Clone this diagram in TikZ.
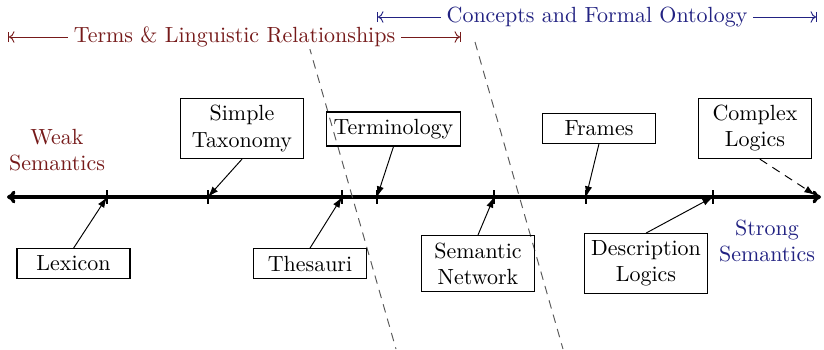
\documentclass[tikz,border=0pt]{standalone}
\usetikzlibrary{arrows.meta}
\definecolor{weakred}{RGB}{118,26,26}
\definecolor{strongblue}{RGB}{34,34,130}
\begin{document}
\begin{tikzpicture}[x=0.469pt,y=-0.469pt,
  font=\fontsize{10.3}{12.2}\selectfont,
  concept/.style={draw, line width=0.5pt, minimum width=53pt, align=center, inner sep=3.33pt},
  pointer/.style={line width=0.45pt, -{Latex[length=5pt,width=3.4pt]}},
  tickmark/.style={line width=0.5pt},
  scaleline/.style={line width=1.6pt, {To[length=4pt,width=6pt]}-{To[length=4pt,width=6pt]}},
  border/.style={black!65, line width=0.45pt, dash pattern=on 4pt off 3pt},
  rangebar/.style={line width=0.45pt, |<->|},
  rangelabel/.style={fill=white, inner xsep=2.5pt, inner ysep=1pt}
]
\useasboundingbox (0,0) rectangle (824,349);

% semantic scale
\coordinate (axL) at (7,197);
\coordinate (axR) at (821,197);
\draw[scaleline] (axL) -- (axR);

% tick marks along the scale
\foreach \n/\x in {t1/107,t2/208,t3/342,t4/377,t5/494,t6/586,t7/713}{
  \coordinate (\n) at (\x,197);
  \draw[tickmark] (\n) ++(0,-7) -- ++(0,14);
}

% dashed boundaries between the families
\coordinate (b1top) at (309,46);
\coordinate (b1bot) at (396,349);
\coordinate (b2top) at (475,42);
\coordinate (b2bot) at (563,349);
\draw[border] (b1top) -- (b1bot);
\draw[border] (b2top) -- (b2bot);

% range labels
\coordinate (r1L) at (8,37);
\coordinate (r1R) at (461,37);
\draw[rangebar, weakred] (r1L) -- node[rangelabel, text=weakred] {Terms \& Linguistic Relationships} (r1R);
\coordinate (r2L) at (377,17);
\coordinate (r2R) at (817,17);
\draw[rangebar, strongblue] (r2L) -- node[rangelabel, text=strongblue] {Concepts and Formal Ontology} (r2R);

% end labels
\node[align=center, text=weakred] (weak) at (57,150) {Weak\\Semantics};
\node[align=center, text=strongblue] (strong) at (767,241) {Strong\\Semantics};

% knowledge organisation systems
\node[concept] (lex) at (73.5,263.5) {Lexicon};
\node[concept, minimum width=58pt] (tax) at (242,128.5) {Simple\\Taxonomy};
\node[concept] (the) at (310,263.5) {Thesauri};
\node[concept] (ter) at (393.5,129) {Terminology};
\node[concept] (sem) at (478,263.5) {Semantic\\Network};
\node[concept] (fra) at (599,128.5) {Frames};
\node[concept] (dsl) at (646,263.5) {Description\\Logics};
\node[concept] (cpl) at (755,128.5) {Complex\\Logics};

% pointers onto the scale
\draw[pointer] (lex.north) -- (t1);
\draw[pointer] (tax.south) -- (t2);
\draw[pointer] (the.north) -- (t3);
\draw[pointer] (ter.south) -- (t4);
\draw[pointer] (sem.north) -- (t5);
\draw[pointer] (fra.south) -- (t6);
\draw[pointer] (dsl.north) -- (t7);
\coordinate (cplend) at (815,195);
\draw[pointer, dash pattern=on 4pt off 3pt] ([xshift=2.3pt]cpl.south) -- (cplend);
\end{tikzpicture}
\end{document}
